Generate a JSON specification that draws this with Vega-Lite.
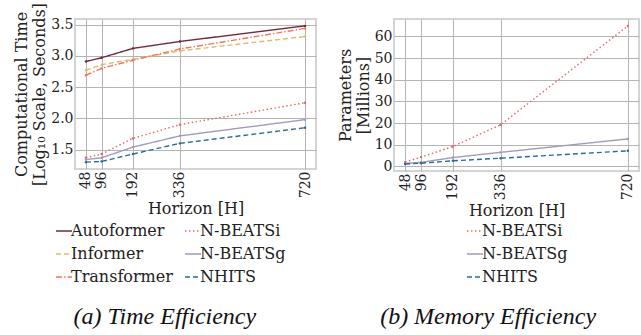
{
  "$schema": "https://vega.github.io/schema/vega-lite/v6.json",
  "padding": {"left": 12, "top": 1, "right": 5, "bottom": 2},
  "background": "white",
  "datasets": {
    "time": [
      {"model": "Autoformer", "H": 48, "value": 2.91},
      {"model": "Autoformer", "H": 96, "value": 2.97},
      {"model": "Autoformer", "H": 192, "value": 3.12},
      {"model": "Autoformer", "H": 336, "value": 3.23},
      {"model": "Autoformer", "H": 720, "value": 3.48},
      {"model": "Informer", "H": 48, "value": 2.77},
      {"model": "Informer", "H": 96, "value": 2.86},
      {"model": "Informer", "H": 192, "value": 2.945},
      {"model": "Informer", "H": 336, "value": 3.08},
      {"model": "Informer", "H": 720, "value": 3.31},
      {"model": "Transformer", "H": 48, "value": 2.69},
      {"model": "Transformer", "H": 96, "value": 2.8},
      {"model": "Transformer", "H": 192, "value": 2.93},
      {"model": "Transformer", "H": 336, "value": 3.11},
      {"model": "Transformer", "H": 720, "value": 3.44},
      {"model": "N-BEATSi", "H": 48, "value": 1.37},
      {"model": "N-BEATSi", "H": 96, "value": 1.43},
      {"model": "N-BEATSi", "H": 192, "value": 1.68},
      {"model": "N-BEATSi", "H": 336, "value": 1.9},
      {"model": "N-BEATSi", "H": 720, "value": 2.25},
      {"model": "N-BEATSg", "H": 48, "value": 1.34},
      {"model": "N-BEATSg", "H": 96, "value": 1.37},
      {"model": "N-BEATSg", "H": 192, "value": 1.54},
      {"model": "N-BEATSg", "H": 336, "value": 1.72},
      {"model": "N-BEATSg", "H": 720, "value": 1.98},
      {"model": "NHITS", "H": 48, "value": 1.3},
      {"model": "NHITS", "H": 96, "value": 1.31},
      {"model": "NHITS", "H": 192, "value": 1.43},
      {"model": "NHITS", "H": 336, "value": 1.6},
      {"model": "NHITS", "H": 720, "value": 1.85}
    ],
    "memory": [
      {"model": "N-BEATSi", "H": 48, "value": 2.0},
      {"model": "N-BEATSi", "H": 96, "value": 4.3},
      {"model": "N-BEATSi", "H": 192, "value": 9.2},
      {"model": "N-BEATSi", "H": 336, "value": 19.2},
      {"model": "N-BEATSi", "H": 720, "value": 64.8},
      {"model": "N-BEATSg", "H": 48, "value": 1.4},
      {"model": "N-BEATSg", "H": 96, "value": 1.9},
      {"model": "N-BEATSg", "H": 192, "value": 4.1},
      {"model": "N-BEATSg", "H": 336, "value": 6.5},
      {"model": "N-BEATSg", "H": 720, "value": 12.7},
      {"model": "NHITS", "H": 48, "value": 1.1},
      {"model": "NHITS", "H": 96, "value": 1.5},
      {"model": "NHITS", "H": 192, "value": 2.6},
      {"model": "NHITS", "H": 336, "value": 3.8},
      {"model": "NHITS", "H": 720, "value": 7.2}
    ]
  },
  "config": {
    "font": "DejaVu Serif",
    "view": {"stroke": "#d4d4d4", "strokeWidth": 2},
    "axis": {
      "labelFont": "DejaVu Serif", "labelFontSize": 14, "labelColor": "#222222",
      "titleFont": "DejaVu Serif", "titleFontSize": 16, "titleFontWeight": "normal", "titleColor": "#222222",
      "gridColor": "#b4b4b4", "gridWidth": 1, "domain": false, "ticks": false, "labelPadding": 2, "titlePadding": 3
    },
    "legend": {
      "labelFont": "DejaVu Serif", "labelFontSize": 16, "labelColor": "#222222",
      "symbolType": "stroke", "symbolSize": 256, "symbolStrokeWidth": 1.6,
      "labelOffset": -2, "rowPadding": 6, "columnPadding": 8, "offset": 5, "padding": 0,
      "layout": {"bottom": {"anchor": "middle"}}
    },
    "title": {"font": "Liberation Serif", "fontSize": 24, "fontStyle": "italic", "fontWeight": "normal", "color": "#111111"}
  },
  "spacing": 19,
  "hconcat": [
    {
      "width": 241,
      "height": 150,
      "data": {"name": "time"},
      "title": {"text": "(a) Time Efficiency", "orient": "bottom", "anchor": "middle", "frame": "bounds", "offset": 20},
      "mark": {"type": "line", "strokeWidth": 1.4, "point": {"size": 6, "filled": true}},
      "encoding": {
        "x": {"field": "H", "type": "quantitative",
          "scale": {"domain": [14.4, 753.6], "nice": false, "zero": false},
          "axis": {"values": [48, 96, 192, 336, 720], "labelAngle": -90, "title": "Horizon [H]"}},
        "y": {"field": "value", "type": "quantitative",
          "scale": {"domain": [1.19, 3.59], "nice": false, "zero": false},
          "axis": {"values": [1.5, 2.0, 2.5, 3.0, 3.5], "format": ".1f", "title": ["Computational Time", "[Log₁₀ Scale, Seconds]"], "titleLineHeight": 18}},
        "color": {"field": "model", "type": "nominal",
          "scale": {"domain": ["Autoformer", "N-BEATSi", "Informer", "N-BEATSg", "Transformer", "NHITS"],
                    "range": ["#74283b", "#e06a6a", "#dcbc6a", "#a09cbc", "#f0785a", "#276a9c"]},
          "legend": {"orient": "none", "legendX": -20, "legendY": 203, "columns": 2, "title": null, "direction": "horizontal"}},
        "strokeDash": {"field": "model", "type": "nominal",
          "scale": {"domain": ["Autoformer", "N-BEATSi", "Informer", "N-BEATSg", "Transformer", "NHITS"],
                    "range": [[1, 0], [1.5, 2.5], [5, 3], [1, 0], [6, 2, 1.5, 2], [5, 3]]},
          "legend": {"orient": "none", "legendX": -20, "legendY": 203, "columns": 2, "title": null, "direction": "horizontal"}}
      }
    },
    {
      "width": 245,
      "height": 152,
      "data": {"name": "memory"},
      "title": {"text": "(b) Memory Efficiency", "orient": "bottom", "anchor": "middle", "frame": "bounds", "offset": 20},
      "mark": {"type": "line", "strokeWidth": 1.4, "point": {"size": 6, "filled": true}},
      "encoding": {
        "x": {"field": "H", "type": "quantitative",
          "scale": {"domain": [14.4, 753.6], "nice": false, "zero": false},
          "axis": {"values": [48, 96, 192, 336, 720], "labelAngle": -90, "title": "Horizon [H]"}},
        "y": {"field": "value", "type": "quantitative",
          "scale": {"domain": [-2.1, 68], "nice": false, "zero": false},
          "axis": {"values": [0, 10, 20, 30, 40, 50, 60], "title": ["Parameters", "[Millions]"], "titleLineHeight": 18}},
        "color": {"field": "model", "type": "nominal",
          "scale": {"domain": ["N-BEATSi", "N-BEATSg", "NHITS"],
                    "range": ["#e06a6a", "#a09cbc", "#276a9c"]},
          "legend": {"orient": "bottom", "columns": 1, "title": null, "direction": "vertical", "offset": 3}},
        "strokeDash": {"field": "model", "type": "nominal",
          "scale": {"domain": ["N-BEATSi", "N-BEATSg", "NHITS"],
                    "range": [[1.5, 2.5], [1, 0], [5, 3]]},
          "legend": {"orient": "bottom", "columns": 1, "title": null, "direction": "vertical", "offset": 3}}
      }
    }
  ],
  "resolve": {"scale": {"color": "independent", "strokeDash": "independent"}}
}
